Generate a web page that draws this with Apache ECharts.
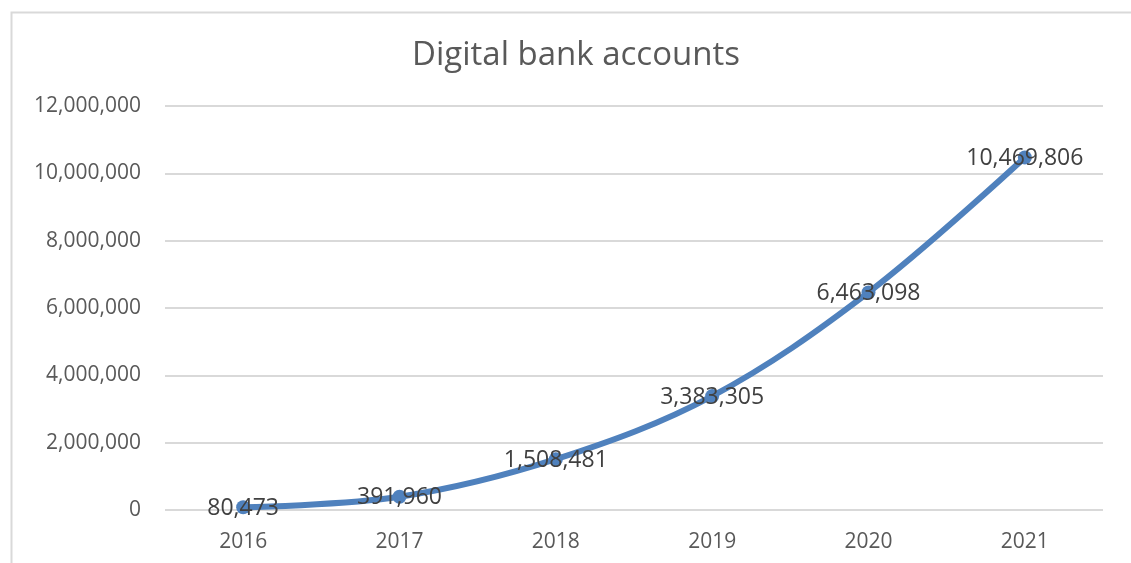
<!DOCTYPE html>
<html>
<head>
<meta charset="utf-8">
<script src="https://cdn.jsdelivr.net/npm/echarts@6/dist/echarts.min.js"></script>
<style>
html,body{margin:0;padding:0;background:#fff;}
#chart{width:1131px;height:563px;}
</style>
</head>
<body>
<div id="chart"></div>
<script>
const titleText = 'Digital bank accounts';
const years = ['2016', '2017', '2018', '2019', '2020', '2021'];
const accounts = [80473, 391960, 1508481, 3383305, 6463098, 10469806];
const yTicks = [0, 2000000, 4000000, 6000000, 8000000, 10000000, 12000000];

const fmt = v => v.toLocaleString('en-US');
const FONT = '"Open Sans", "Noto Sans", sans-serif';

const chart = echarts.init(document.getElementById('chart'), null, {renderer: 'canvas'});
chart.setOption({
  backgroundColor: '#ffffff',
  animation: false,
  graphic: [{
    type: 'rect',
    left: 9, top: 10,
    shape: {width: 1200, height: 600},
    style: {fill: 'none', stroke: '#d9d9d9', lineWidth: 2},
    silent: true
  }],
  title: {
    text: titleText,
    left: 571, top: 34, textAlign: 'center',
    textStyle: {fontFamily: FONT, fontSize: 33, fontWeight: 'normal', color: '#595959'}
  },
  grid: {left: 165, right: 28, top: 106, bottom: 53, containLabel: false},
  xAxis: {
    type: 'category',
    data: years,
    boundaryGap: true,
    axisLine: {show: false},
    axisTick: {show: false},
    axisLabel: {fontFamily: FONT, fontSize: 21, color: '#595959', margin: 22}
  },
  yAxis: {
    type: 'value',
    min: yTicks[0], max: yTicks[yTicks.length - 1], interval: 2000000,
    axisLine: {show: false},
    axisTick: {show: false},
    splitLine: {lineStyle: {color: '#d9d9d9', width: 2}},
    axisLabel: {fontFamily: FONT, fontSize: 21, color: '#595959', margin: 24, formatter: v => fmt(v)}
  },
  series: [{
    type: 'line',
    data: accounts,
    smooth: 0.35,
    symbol: 'circle',
    symbolSize: 14,
    lineStyle: {color: '#4f81bd', width: 6},
    itemStyle: {color: '#4f81bd'},
    label: {
      show: true, position: 'inside', offset: [0, 1],
      fontFamily: FONT, fontSize: 23, color: '#404040',
      formatter: p => fmt(p.value)
    }
  }]
});
</script>
</body>
</html>
